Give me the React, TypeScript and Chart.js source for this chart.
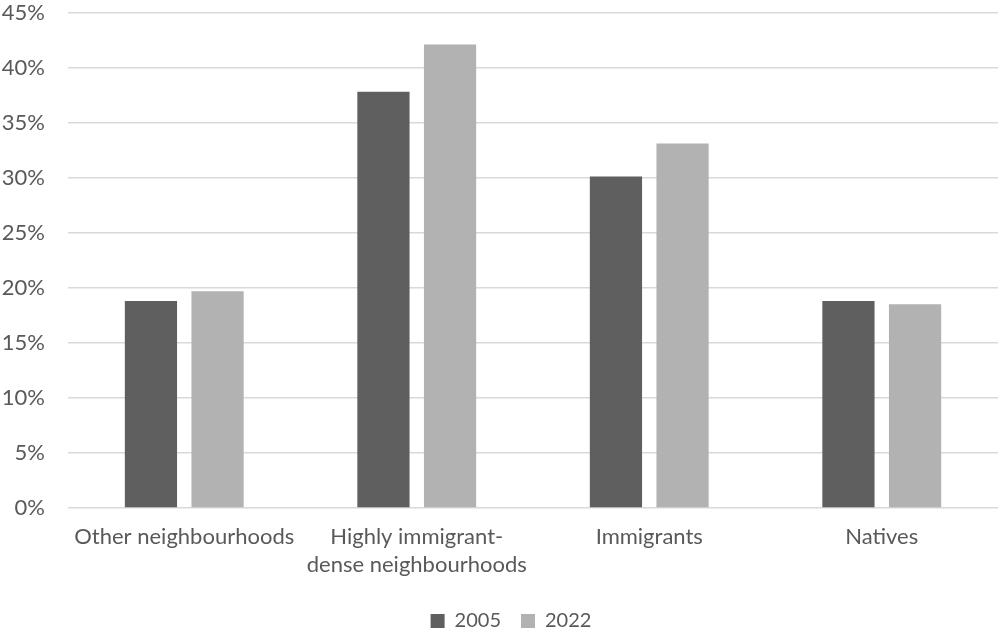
import { useEffect, useRef } from "react";
import { Chart, registerables, type Plugin } from "chart.js";

Chart.register(...registerables);

// Category labels (multi-line where the label wraps)
const categories: string[][] = [
  ["Other neighbourhoods"],
  ["Highly immigrant-", "dense neighbourhoods"],
  ["Immigrants"],
  ["Natives"],
];

// Share (%) per group and year
const values2005 = [18.8, 37.8, 30.1, 18.8];
const values2022 = [19.7, 42.1, 33.1, 18.5];

const seriesLabels = ["2005", "2022"];
const seriesColors = ["#5f5f5f", "#b2b2b2"];

const yMin = 0;
const yMax = 45;
const yStep = 5;

const textColor = "#595959";
const fontFamily = "Lato, 'Open Sans', sans-serif";
const fontSize = 22;

// Nudges the legend row slightly to the right of the canvas centre
const legendOffset: Plugin<"bar"> = {
  id: "legendOffset",
  afterLayout(chart) {
    const lg = chart.legend;
    if (lg) lg.left += 24;
  },
};

export default function App() {
  const canvasRef = useRef<HTMLCanvasElement | null>(null);

  useEffect(() => {
    const canvas = canvasRef.current;
    if (!canvas) return;
    const chart = new Chart(canvas, {
      type: "bar",
      data: {
        labels: categories,
        datasets: [
          {
            label: seriesLabels[0],
            data: values2005,
            backgroundColor: seriesColors[0],
            borderWidth: 0,
          },
          {
            label: seriesLabels[1],
            data: values2022,
            backgroundColor: seriesColors[1],
            borderWidth: 0,
          },
        ],
      },
      options: {
        animation: false,
        events: [],
        responsive: true,
        maintainAspectRatio: false,
        layout: { padding: { left: 0, right: 0, top: 12.5, bottom: -9 } },
        datasets: {
          bar: { categoryPercentage: 0.573, barPercentage: 0.784 },
        },
        scales: {
          x: {
            grid: { display: false, drawTicks: false },
            border: { display: false },
            ticks: {
              color: textColor,
              font: { family: fontFamily, size: fontSize, lineHeight: 1.27 },
              padding: 15,
              maxRotation: 0,
              autoSkip: false,
            },
            afterFit: (scale) => {
              scale.height -= 3;
            },
          },
          y: {
            min: yMin,
            max: yMax,
            grid: { color: "#d9d9d9", lineWidth: 1.5, drawTicks: false },
            border: { display: false },
            ticks: {
              stepSize: yStep,
              color: textColor,
              font: { family: fontFamily, size: fontSize },
              padding: 23,
              callback: (v) => `${v}%`,
            },
            afterFit: (scale) => {
              scale.width = 68;
              scale.paddingTop = 0;
            },
          },
        },
        plugins: {
          legend: {
            position: "bottom",
            labels: {
              color: textColor,
              font: { family: fontFamily, size: 20 },
              boxWidth: 14,
              boxHeight: 14,
              padding: 20,
            },
          },
          tooltip: { enabled: false },
        },
      },
      plugins: [legendOffset],
    });
    return () => chart.destroy();
  }, []);

  return (
    <div style={{ position: "fixed", left: 0, top: 0, width: 998, height: 632, background: "#fff" }}>
      <canvas ref={canvasRef} />
    </div>
  );
}
